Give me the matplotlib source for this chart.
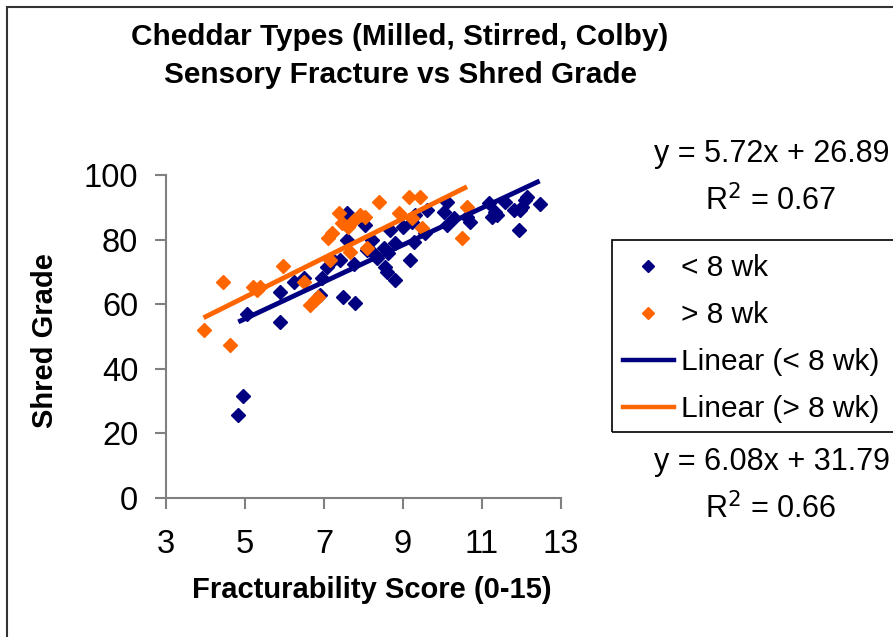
import numpy as np
import matplotlib.pyplot as plt
from matplotlib.patches import Rectangle
from matplotlib.lines import Line2D

plt.rcParams['font.family'] = ['Liberation Sans', 'DejaVu Sans']

# < 8 wk samples (fracturability score, shred grade)
young_x = [4.83, 4.94, 5.04, 5.89, 5.89, 6.23, 6.50, 6.90, 6.94, 7.07, 7.24, 7.49, 7.58,
           7.58, 7.41, 7.75, 7.79, 8.04, 8.08, 8.21, 8.25, 8.34, 8.51, 8.55, 8.59, 8.63,
           8.68, 8.80, 8.80, 9.01, 9.18, 9.27, 9.22, 9.31, 9.60, 9.56, 10.03, 10.11, 10.11,
           10.28, 10.62, 10.70, 11.17, 11.25, 11.34, 11.38, 11.59, 11.80, 11.93, 11.97,
           12.01, 12.14, 12.10, 12.46]
young_y = [25.6, 31.5, 57.1, 54.5, 63.8, 66.9, 68.0, 62.8, 68.0, 71.6, 73.7, 62.3, 88.1,
           79.9, 73.7, 72.6, 60.4, 84.5, 76.8, 79.9, 75.7, 74.2, 77.3, 71.6, 70.0, 75.7,
           83.0, 67.5, 78.8, 84.0, 73.7, 79.3, 85.5, 87.6, 89.2, 81.9, 88.6, 84.5, 91.7,
           86.6, 87.1, 85.5, 91.2, 87.1, 88.6, 87.6, 91.7, 89.2, 83.0, 89.2, 90.2, 93.3,
           92.3, 91.0]

# > 8 wk samples
old_x = [3.95, 4.45, 4.62, 5.21, 5.30, 5.38, 5.97, 6.50, 6.65, 6.78, 6.86, 7.11, 7.20,
         7.16, 7.37, 7.45, 7.62, 7.66, 7.75, 7.92, 8.04, 8.08, 8.38, 8.89, 9.14, 9.22,
         9.44, 9.48, 10.49, 10.62]
old_y = [52.0, 66.9, 47.3, 65.4, 64.4, 65.4, 71.8, 66.9, 59.7, 61.3, 62.3, 80.4, 81.9,
         73.7, 88.1, 85.0, 84.0, 76.2, 86.0, 87.6, 87.1, 77.3, 91.7, 88.1, 93.3, 86.6,
         93.3, 83.5, 80.4, 90.2]

# trendline coefficients (slope, intercept) and R^2 as printed on the chart
young_fit = (5.72, 26.89)
old_fit = (6.08, 31.79)
young_r2 = 0.67
old_r2 = 0.66

navy = '#000080'
orange = '#FF6600'
grey = '#808080'

W, H = 893, 637
fig = plt.figure(figsize=(W / 100, H / 100), dpi=100)
ax = fig.add_axes([166 / W, 1 - 498 / H, 395 / W, 323 / H])

ax.plot(young_x, young_y, 'D', color=navy, ms=6.8, mec=navy)
ax.plot(old_x, old_y, 'D', color=orange, ms=6.8, mec=orange)

xs = np.array([min(young_x), max(young_x)])
ax.plot(xs, young_fit[0] * xs + young_fit[1], color=navy, lw=3.5, solid_capstyle='butt')
xs = np.array([min(old_x), max(old_x)])
ax.plot(xs, old_fit[0] * xs + old_fit[1], color=orange, lw=3.5, solid_capstyle='butt')

ax.set_xlim(3, 13)
ax.set_ylim(0, 100)
ax.set_xticks(range(3, 14, 2))
ax.set_yticks(range(0, 101, 20))
for s in ['top', 'right']:
    ax.spines[s].set_visible(False)
for s in ['left', 'bottom']:
    ax.spines[s].set_color(grey)
    ax.spines[s].set_linewidth(1.5)
ax.tick_params(direction='out', length=8, width=1.5, color=grey, labelsize=23.5)
ax.tick_params(axis='x', pad=14)
ax.tick_params(axis='y', pad=12)

ax.set_xlabel('Fracturability Score (0-15)', fontsize=21, fontweight='bold')
ax.xaxis.label.set_va('baseline')
ax.xaxis.set_label_coords((372 - 166) / 395, (498 - 598) / 323)
ax.set_ylabel('Shred Grade', fontsize=21, fontweight='bold')
ax.yaxis.label.set_va('baseline')
ax.yaxis.set_label_coords((53 - 166) / 395, (498 - 341) / 323)

fig.text(400 / W, 1 - 37 / H, 'Cheddar Types (Milled, Stirred, Colby)', ha='center', va='center',
         fontsize=21.4, fontweight='bold')
fig.text(400 / W, 1 - 75 / H, 'Sensory Fracture vs Shred Grade', ha='center', va='center',
         fontsize=21.4, fontweight='bold')

# trendline equations
fig.text(772 / W, 1 - 162 / H, f'y = {young_fit[0]:.2f}x + {young_fit[1]:.2f}', ha='center',
         va='baseline', fontsize=22)
fig.text(771 / W, 1 - 210 / H, f'R$^2$ = {young_r2:.2f}', ha='center', va='baseline', fontsize=22)
fig.text(772 / W, 1 - 470 / H, f'y = {old_fit[0]:.2f}x + {old_fit[1]:.2f}', ha='center',
         va='baseline', fontsize=22)
fig.text(771 / W, 1 - 518 / H, f'R$^2$ = {old_r2:.2f}', ha='center', va='baseline', fontsize=22)

# legend box
fig.patches.append(Rectangle((612 / W, 1 - 432 / H), 300 / W, 192 / H, transform=fig.transFigure,
                             fill=False, edgecolor='black', lw=1.2))
handles = [Line2D([], [], marker='D', ls='none', color=navy, ms=6.6),
           Line2D([], [], marker='D', ls='none', color=orange, ms=6.6),
           Line2D([], [], color=navy, lw=3.2),
           Line2D([], [], color=orange, lw=3.2)]
labels = ['< 8 wk', '> 8 wk', 'Linear (< 8 wk)', 'Linear (> 8 wk)']
fig.legend(handles, labels, loc='upper left', bbox_to_anchor=(609 / W, 1 - 240 / H),
           frameon=False, fontsize=21.5, handlelength=1.7, handletextpad=0.25,
           labelspacing=0.64, borderpad=0.47, borderaxespad=0)

# outer chart frame
fig.patches.append(Rectangle((7 / W, -0.05), 1.0, 1 - 7 / H + 0.05, transform=fig.transFigure,
                             fill=False, edgecolor='#333333', lw=1.5))

fig.savefig('out.png', dpi=100)
